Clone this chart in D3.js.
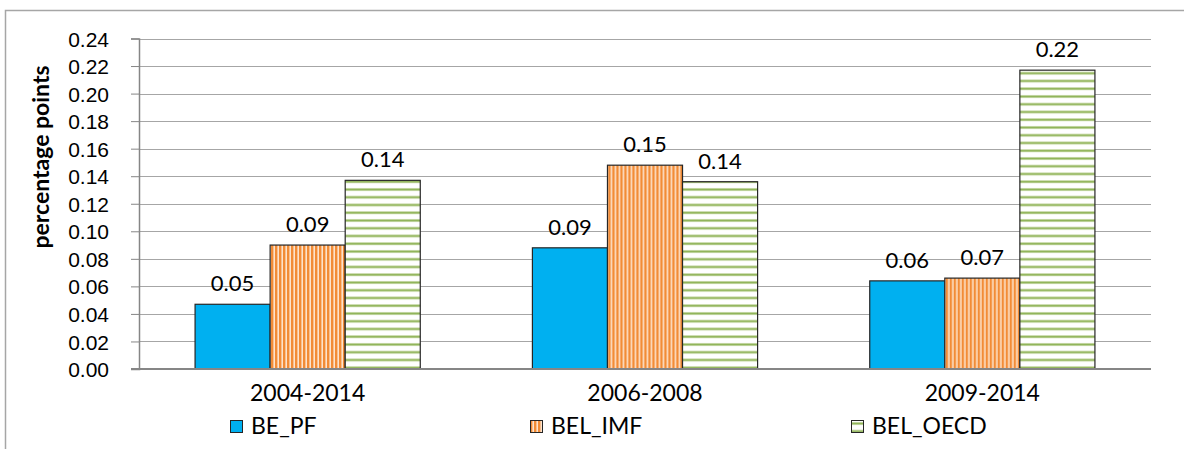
<!DOCTYPE html>
<html>
<head>
<meta charset="utf-8">
<script src="https://cdn.jsdelivr.net/npm/d3@7"></script>
<style>
  body { margin: 0; background: #fff; }
  svg { display: block; font-family: Lato, Carlito, Calibri, sans-serif; }
  .tick text { font-size: 21px; fill: #000; }
</style>
</head>
<body>
<svg class="chart" width="1184" height="449"></svg>
<script>
const categories = ["2004-2014", "2006-2008", "2009-2014"]
const seriesNames = ["BE_PF", "BEL_IMF", "BEL_OECD"]
const bePf = [0.047, 0.088, 0.064]
const belImf = [0.090, 0.148, 0.066]
const belOecd = [0.137, 0.136, 0.217]
const valueLabels = [
    ["0.05", "0.09", "0.14"],
    ["0.09", "0.15", "0.14"],
    ["0.06", "0.07", "0.22"]
]
const yTicks = [0, 0.02, 0.04, 0.06, 0.08, 0.10, 0.12, 0.14, 0.16, 0.18, 0.20, 0.22, 0.24]

const svg = d3.select("svg.chart")

const plotLeft = 139, plotRight = 1151, plotTop = 38.5, plotBottom = 369

// outer chart border (only top & left visible)
svg.append("rect")
    .attr("x", 5.5).attr("y", 10.5)
    .attr("width", 1300).attr("height", 600)
    .attr("fill", "none")
    .attr("stroke", "#a6a6a6")
    .attr("stroke-width", 1.5)

const defs = svg.append("defs")

const orangePat = defs.append("pattern")
    .attr("id", "pat-orange")
    .attr("patternUnits", "userSpaceOnUse")
    .attr("width", 4).attr("height", 4)
orangePat.append("rect").attr("width", 4).attr("height", 4).attr("fill", "#fde3cc")
orangePat.append("rect").attr("x", 0).attr("width", 2.4).attr("height", 4).attr("fill", "#f28c36")

const greenPat = defs.append("pattern")
    .attr("id", "pat-green")
    .attr("patternUnits", "userSpaceOnUse")
    .attr("width", 8).attr("height", 7.75)
greenPat.append("rect").attr("width", 8).attr("height", 7.75).attr("fill", "#ffffff")
greenPat.append("rect").attr("y", 2).attr("width", 8).attr("height", 3).attr("fill", "#dde8c6")
greenPat.append("rect").attr("y", 2.6).attr("width", 8).attr("height", 1.8).attr("fill", "#8db255")

const fills = ["#00b0f0", "url(#pat-orange)", "url(#pat-green)"]

const x0 = d3.scaleBand()
    .domain(categories)
    .range([plotLeft, plotRight])
    .padding(0)

const x1 = d3.scaleBand()
    .domain(seriesNames)
    .range([0, x0.bandwidth()])
    .paddingInner(0)
    .paddingOuter(0.747)

const y = d3.scaleLinear()
    .domain([0, 0.24])
    .range([plotBottom, plotTop])

// gridlines
svg.append("g")
    .selectAll("line")
    .data(yTicks.slice(1))
    .enter()
    .append("line")
    .attr("x1", plotLeft)
    .attr("x2", plotRight)
    .attr("y1", d => Math.round(y(d)) + 0.5)
    .attr("y2", d => Math.round(y(d)) + 0.5)
    .attr("stroke", "#a6a6a6")
    .attr("stroke-width", 1)

// y axis
const yAxis = svg.append("g")
    .attr("transform", "translate(" + plotLeft + ",0)")
    .call(d3.axisLeft(y).tickValues(yTicks).tickFormat(d3.format(".2f")).tickSize(8).tickPadding(22))
yAxis.select(".domain").attr("stroke", "#868686").attr("stroke-width", 1.5)
yAxis.selectAll(".tick line").attr("stroke", "#868686")
yAxis.selectAll(".tick text").attr("dy", "0.36em")

// bars
const data = categories.map((c, i) => ({
    cat: c,
    values: [bePf[i], belImf[i], belOecd[i]],
    labels: valueLabels[i]
}))

const groups = svg.selectAll("g.cat")
    .data(data)
    .enter()
    .append("g")
    .attr("class", "cat")
    .attr("transform", d => "translate(" + x0(d.cat) + ",0)")

groups.selectAll("rect")
    .data(d => d.values.map((v, j) => ({ v: v, s: seriesNames[j], j: j })))
    .enter()
    .append("rect")
    .attr("x", d => x1(d.s))
    .attr("y", d => y(d.v))
    .attr("width", x1.bandwidth())
    .attr("height", d => plotBottom - y(d.v))
    .attr("fill", d => fills[d.j])
    .attr("stroke", "#262626")
    .attr("stroke-width", 1.2)

groups.selectAll("text.val")
    .data(d => d.values.map((v, j) => ({ v: v, s: seriesNames[j], t: d.labels[j] })))
    .enter()
    .append("text")
    .attr("class", "val")
    .attr("x", d => x1(d.s) + x1.bandwidth() / 2)
    .attr("y", d => y(d.v) - 13)
    .attr("text-anchor", "middle")
    .attr("font-size", 22)
    .text(d => d.t)

// x axis line
svg.append("line")
    .attr("x1", plotLeft - 8).attr("x2", plotRight)
    .attr("y1", plotBottom).attr("y2", plotBottom)
    .attr("stroke", "#868686")
    .attr("stroke-width", 2)

// category labels
svg.selectAll("text.cat")
    .data(categories)
    .enter()
    .append("text")
    .attr("class", "cat")
    .attr("x", d => x0(d) + x0.bandwidth() / 2)
    .attr("y", 401)
    .attr("text-anchor", "middle")
    .attr("font-size", 23)
    .text(d => d)

// y title
svg.append("text")
    .attr("transform", "translate(49,157) rotate(-90)")
    .attr("text-anchor", "middle")
    .attr("font-size", 23)
    .attr("font-weight", "bold")
    .text("percentage points")

// legend
const legendX = [230, 530, 851]
const legend = svg.selectAll("g.legend")
    .data(seriesNames)
    .enter()
    .append("g")
    .attr("class", "legend")
    .attr("transform", (d, i) => "translate(" + legendX[i] + ",420)")

legend.append("rect")
    .attr("x", 0.5).attr("y", 0.5)
    .attr("width", 12).attr("height", 12)
    .attr("fill", (d, i) => fills[i])
    .attr("stroke", "#262626")
    .attr("stroke-width", 1)

legend.append("text")
    .attr("x", 21)
    .attr("y", 14)
    .attr("font-size", 23)
    .text(d => d)
</script>
</body>
</html>
